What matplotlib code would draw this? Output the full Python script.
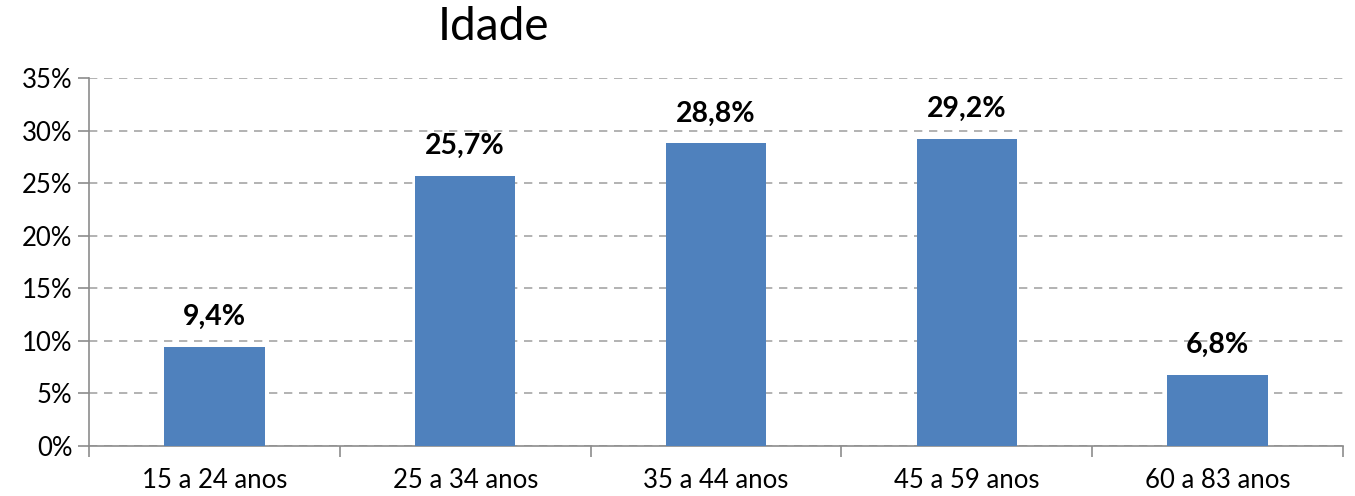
import matplotlib
matplotlib.use("Agg")
import matplotlib.pyplot as plt
from matplotlib.ticker import FuncFormatter, MultipleLocator

categories = ["15 a 24 anos", "25 a 34 anos", "35 a 44 anos", "45 a 59 anos", "60 a 83 anos"]
values = [9.4, 25.7, 28.8, 29.2, 6.8]
title = "Idade"

plt.rcParams['font.family'] = ['Lato', 'DejaVu Sans']

fig = plt.figure(figsize=(13.55, 4.96), dpi=100)
ax = fig.add_axes([89/1355, 1 - 446/496, (1343 - 89)/1355, (446 - 78)/496])

x = range(len(categories))
bars = ax.bar(x, values, width=0.4, color="#4F81BD", zorder=3)
for xi, v in zip(x, values):
    ax.text(xi, v + 1.6, f"{v:.1f}%".replace(".", ","), ha="center", va="bottom",
            fontsize=20.5, fontweight="bold", color="black")

ax.set_xlim(-0.5, len(categories) - 0.5)
ax.set_ylim(0, 35)
ax.yaxis.set_major_locator(MultipleLocator(5))
ax.yaxis.set_major_formatter(FuncFormatter(lambda v, p: f"{v:.0f}%"))
ax.set_xticks(list(x))
ax.set_xticklabels(categories)
ax.set_xticks([i - 0.5 for i in range(len(categories) + 1)], minor=True)
ax.tick_params(axis="x", which="major", length=0, pad=16, labelsize=18.5)
ax.tick_params(axis="x", which="minor", length=8, width=1.2, color="#8C8C8C", direction="out")
ax.tick_params(axis="y", length=8, width=1.2, color="#8C8C8C", labelsize=18.5, pad=4)

ax.grid(axis="y", color="#A6A6A6", linestyle=(0, (5, 4)), linewidth=1.2, zorder=0)
for s in ["top", "right"]:
    ax.spines[s].set_visible(False)
for s in ["left", "bottom"]:
    ax.spines[s].set_color("#8C8C8C")
    ax.spines[s].set_linewidth(1.2)

fig.text(494/1355, 1 - 27/496, title, ha="center", va="center", fontsize=33)

fig.savefig("out.png", dpi=100)
